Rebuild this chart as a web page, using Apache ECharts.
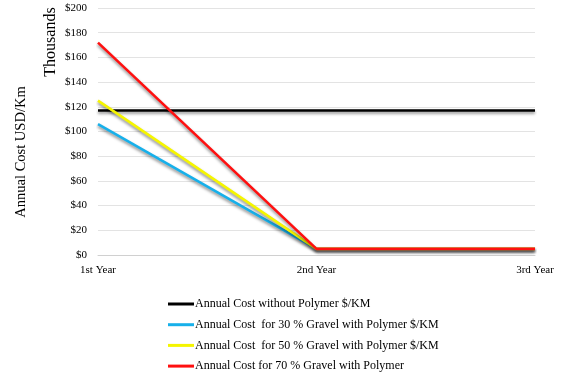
<!DOCTYPE html>
<html>
<head>
<meta charset="utf-8">
<script src="https://cdn.jsdelivr.net/npm/echarts@6/dist/echarts.min.js"></script>
<style>
  html, body { margin: 0; padding: 0; background: #fff; }
  #chart { width: 561px; height: 375px; }
</style>
</head>
<body>
<div id="chart"></div>
<script>
// Annual cost per km (thousands USD) over three years
const years = ['1st Year', '2nd Year', '3rd Year'];
const seriesNames = [
  'Annual Cost without Polymer $/KM',
  'Annual Cost  for 30 % Gravel with Polymer $/KM',
  'Annual Cost  for 50 % Gravel with Polymer $/KM',
  'Annual Cost for 70 % Gravel with Polymer'
];
const withoutPolymer = [117, 117, 117];
const gravel30 = [106, 5, 5];
const gravel50 = [125, 5, 5];
const gravel70 = [172, 5, 5];
const colors = ['#000000', '#17b0ea', '#f5f500', '#ff1010'];

const font = '"Liberation Serif", "DejaVu Serif", serif';
const chart = echarts.init(document.getElementById('chart'));

const seriesData = [withoutPolymer, gravel30, gravel50, gravel70];

chart.setOption({
  animation: false,
  textStyle: { fontFamily: font },
  grid: { left: 98, right: 26, top: 8, bottom: 120, containLabel: false },
  legend: {
    orient: 'vertical',
    left: 168,
    top: 298,
    height: 100,
    padding: 0,
    itemGap: 8.7,
    itemWidth: 26,
    itemHeight: 3,
    icon: 'rect',
    textStyle: { fontFamily: font, fontSize: 12, color: '#000', padding: [0, 0, 0, -4] },
    data: seriesNames
  },
  xAxis: {
    type: 'category',
    data: years,
    boundaryGap: false,
    axisLine: { lineStyle: { color: '#d0d0d0' } },
    axisTick: { show: false },
    axisLabel: { color: '#000', fontSize: 11, fontFamily: font, margin: 10 }
  },
  yAxis: {
    type: 'value',
    min: 0,
    max: 200,
    interval: 20,
    axisLine: { show: false },
    axisTick: { show: false },
    splitLine: { lineStyle: { color: '#e3e3e3' } },
    axisLabel: {
      color: '#000', fontSize: 11, fontFamily: font, margin: 11,
      formatter: v => '$' + v
    }
  },
  graphic: [{
    type: 'text',
    x: 21, y: 152,
    rotation: Math.PI / 2,
    style: {
      text: 'Annual Cost USD/Km',
      font: '14.5px ' + font,
      fill: '#000',
      align: 'center',
      verticalAlign: 'middle'
    }
  }, {
    type: 'text',
    x: 51, y: 42,
    rotation: Math.PI / 2,
    style: {
      text: 'Thousands',
      font: '16px ' + font,
      fill: '#000',
      align: 'center',
      verticalAlign: 'middle'
    }
  }],
  series: seriesNames.map((n, i) => ({
    name: n,
    type: 'line',
    data: seriesData[i],
    showSymbol: false,
    symbol: 'none',
    color: colors[i],
    lineStyle: {
      width: 2.6,
      color: colors[i],
      shadowColor: 'rgba(0,0,0,0.45)',
      shadowBlur: 3,
      shadowOffsetY: 2
    },
    z: 2 + i
  }))
});
</script>
</body>
</html>
